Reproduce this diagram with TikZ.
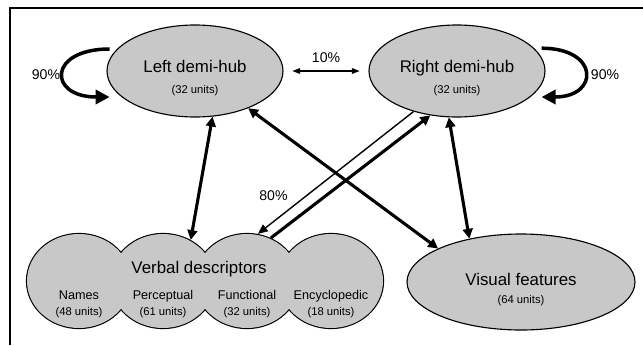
\documentclass[tikz,border=0pt]{standalone}
\usepackage{fontspec}
\setmainfont{Liberation Sans}
\usepackage{tikz}
\usetikzlibrary{arrows.meta,shapes}
\definecolor{unitgray}{RGB}{200,200,200}
\tikzstyle{frame} = [line width=1.5pt]
\tikzstyle{hub} = [ellipse, minimum width=4.4cm, minimum height=2.3cm, inner sep=0pt, draw=black, line width=0.8pt, fill=unitgray]
\tikzstyle{part} = [ellipse, minimum width=2.6cm, minimum height=2.35cm, inner sep=0pt, draw=black, line width=1.6pt, fill=unitgray]
\tikzstyle{hubtext} = [align=center, font=\large]
\tikzstyle{parttext} = [align=center, font=\small]
\tikzstyle{pct} = [font=\normalsize]
\tikzstyle{arrow} = [line width=2.2pt, {Triangle[length=7pt,width=7pt]}-{Triangle[length=7pt,width=7pt]}]
\tikzstyle{onearrow} = [line width=2.2pt, -{Triangle[length=7pt,width=7pt]}]
\tikzstyle{thinarrow} = [line width=1pt, -{Triangle[length=7pt,width=6pt]}]
\tikzstyle{loop} = [line width=2.5pt, -{Triangle[length=10pt,width=10pt]}]

\begin{document}
\begin{tikzpicture}[node distance=1cm]
\useasboundingbox (0,0) rectangle (16.075,-8.625);
\draw [frame] (0.25,-8.625) -- (0.25,-0.2) -- (16.075,-0.2);

\node (lhub) [hub] at (4.875,-1.775) {};
\node (rhub) [hub, right of=lhub, xshift=5.55cm] {};
\node (names) [part] at (1.975,-7.025) {};
\node (percep) [part, right of=names, xshift=1.1cm] {};
\node (funct) [part, right of=percep, xshift=1.1cm] {};
\node (encyc) [part, right of=funct, xshift=1.1cm] {};
\foreach \p in {names,percep,funct,encyc}
  \fill [unitgray] (\p.center) ellipse [x radius=1.3cm, y radius=1.175cm];
\node (visual) [hub, minimum width=5.7cm, minimum height=2.4cm] at (13.025,-7.05) {};

% texts
\node (lhubtxt) [hubtext] at ([yshift=-0.18cm]lhub.center) {Left demi-hub\\[1pt]\footnotesize (32 units)};
\node (rhubtxt) [hubtext] at ([yshift=-0.18cm]rhub.center) {Right demi-hub\\[1pt]\footnotesize (32 units)};
\node (vistxt) [hubtext] at ([yshift=-0.18cm]visual.center) {Visual features\\[-1pt]\footnotesize (64 units)};
\node (verbtxt) [hubtext] at (4.975,-6.725) {Verbal descriptors};
\node (namestxt) [parttext] at ([yshift=-0.58cm]names.center) {Names\\\footnotesize (48 units)};
\node (perceptxt) [parttext] at ([yshift=-0.58cm]percep.center) {Perceptual\\\footnotesize (61 units)};
\node (functtxt) [parttext] at ([yshift=-0.58cm]funct.center) {Functional\\\footnotesize (32 units)};
\node (encyctxt) [parttext] at ([yshift=-0.58cm]encyc.center) {Encyclopedic\\\footnotesize (18 units)};

% connections
\draw [line width=0.8pt, {Triangle[length=5.5pt,width=4pt]}-{Triangle[length=5.5pt,width=4pt]}, shorten <=0.22cm, shorten >=0.22cm]
  (lhub.east) -- node [pct, above=2pt] {10\%} (rhub.west);
\draw [loop] ([xshift=0.08cm,yshift=0.55cm]lhub.west) .. controls +(180:1.55) and +(180:1.55) .. ([xshift=0.08cm,yshift=-0.65cm]lhub.west);
\node (lpct) [pct] at (1.15,-1.875) {90\%};
\draw [loop] ([xshift=-0.1cm,yshift=0.57cm]rhub.east) .. controls +(0:1.45) and +(0:1.45) .. ([xshift=-0.1cm,yshift=-0.65cm]rhub.east);
\node (rpct) [pct] at (15.125,-1.875) {90\%};
\draw [arrow] (lhub.-69) -- (percep.56);
\draw [arrow] (lhub.-35) -- (visual.158);
\draw [arrow] (rhub.-100) -- (visual.140);
\draw [thinarrow] (rhub.-137) -- node [pct, pos=0.9, above=0.4cm] {80\%} (funct.77);
\draw [onearrow] (funct.61) -- (rhub.-121);
\end{tikzpicture}
\end{document}
